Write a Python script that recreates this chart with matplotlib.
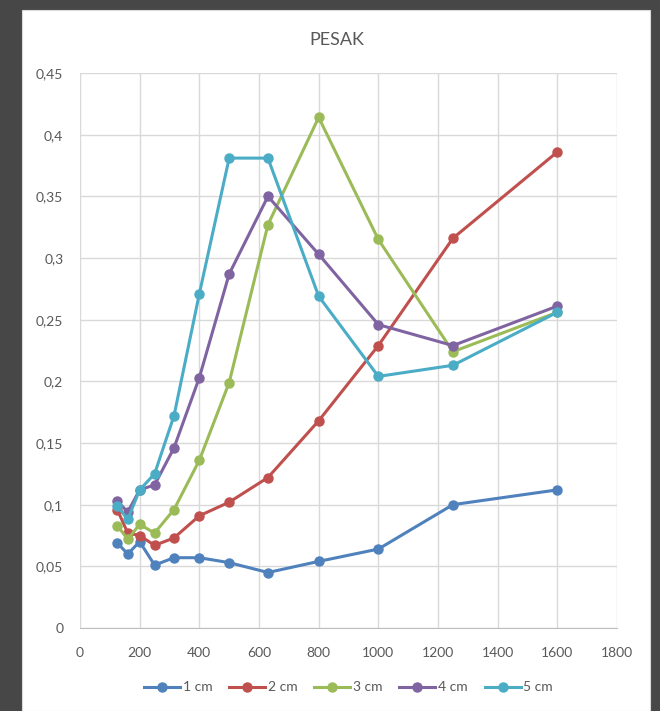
import matplotlib.pyplot as plt
from matplotlib.patches import Rectangle

# x positions (sieve sizes) and series values
x = [125, 160, 200, 250, 315, 400, 500, 630, 800, 1000, 1250, 1600]
cm1 = [0.069, 0.060, 0.070, 0.051, 0.057, 0.057, 0.053, 0.045, 0.054, 0.064, 0.100, 0.112]
cm2 = [0.096, 0.077, 0.075, 0.067, 0.073, 0.091, 0.102, 0.122, 0.168, 0.229, 0.316, 0.386]
cm3 = [0.083, 0.072, 0.084, 0.077, 0.096, 0.136, 0.199, 0.327, 0.414, 0.315, 0.224, 0.256]
cm4 = [0.103, 0.094, 0.112, 0.116, 0.146, 0.203, 0.287, 0.350, 0.303, 0.246, 0.229, 0.261]
cm5 = [0.099, 0.088, 0.112, 0.125, 0.172, 0.271, 0.381, 0.381, 0.269, 0.204, 0.213, 0.256]

labels = ['1 cm', '2 cm', '3 cm', '4 cm', '5 cm']
colors = ['#4F81BD', '#C0504D', '#9BBB59', '#8064A2', '#4BACC6']

plt.rcParams['font.family'] = ['Lato', 'DejaVu Sans']
text_col = '#595959'

fig = plt.figure(figsize=(6.6, 7.11), dpi=100)
fig.patch.set_facecolor('#474747')
# white chart panel
fig.patches.append(Rectangle((22 / 660, 0), 628 / 660, 701 / 711,
                             transform=fig.transFigure, facecolor='white',
                             edgecolor='#d9d9d9', lw=0.8, zorder=-5))

ax = fig.add_axes([80 / 660, (711 - 628) / 711, 537 / 660, 555 / 711])
ax.set_zorder(2)
ax.set_facecolor('white')

for ys, lab, c in zip([cm1, cm2, cm3, cm4, cm5], labels, colors):
    ax.plot(x, ys, color=c, lw=2.2, marker='o', markersize=6.5, label=lab,
            clip_on=False, zorder=3)

ax.set_xlim(0, 1800)
ax.set_ylim(0, 0.45)
ax.set_xticks(range(0, 1801, 200))
ax.set_yticks([i * 0.05 for i in range(10)])
ax.set_yticklabels(['0' if i == 0 else ('%.2f' % (i * 0.05)).rstrip('0').replace('.', ',')
                    for i in range(10)])
ax.grid(True, color='#d9d9d9', lw=1)
ax.set_axisbelow(True)
for s in ['top', 'right', 'left']:
    ax.spines[s].set_visible(False)
ax.spines['bottom'].set_color('#bfbfbf')
ax.tick_params(length=0, colors=text_col, labelsize=10)
ax.tick_params(axis='x', pad=14)
ax.tick_params(axis='y', pad=12)

fig.text(337 / 660, 1 - 40 / 711, 'PESAK', ha='center', va='center',
         fontsize=13, color=text_col)

leg = ax.legend(loc='center', bbox_to_anchor=(0.5, -0.107), ncol=5, frameon=False,
                fontsize=10, handlelength=2.6, columnspacing=1.2, handletextpad=0.2,
                labelcolor=text_col)

fig.savefig('out.png', dpi=100, facecolor=fig.get_facecolor())
